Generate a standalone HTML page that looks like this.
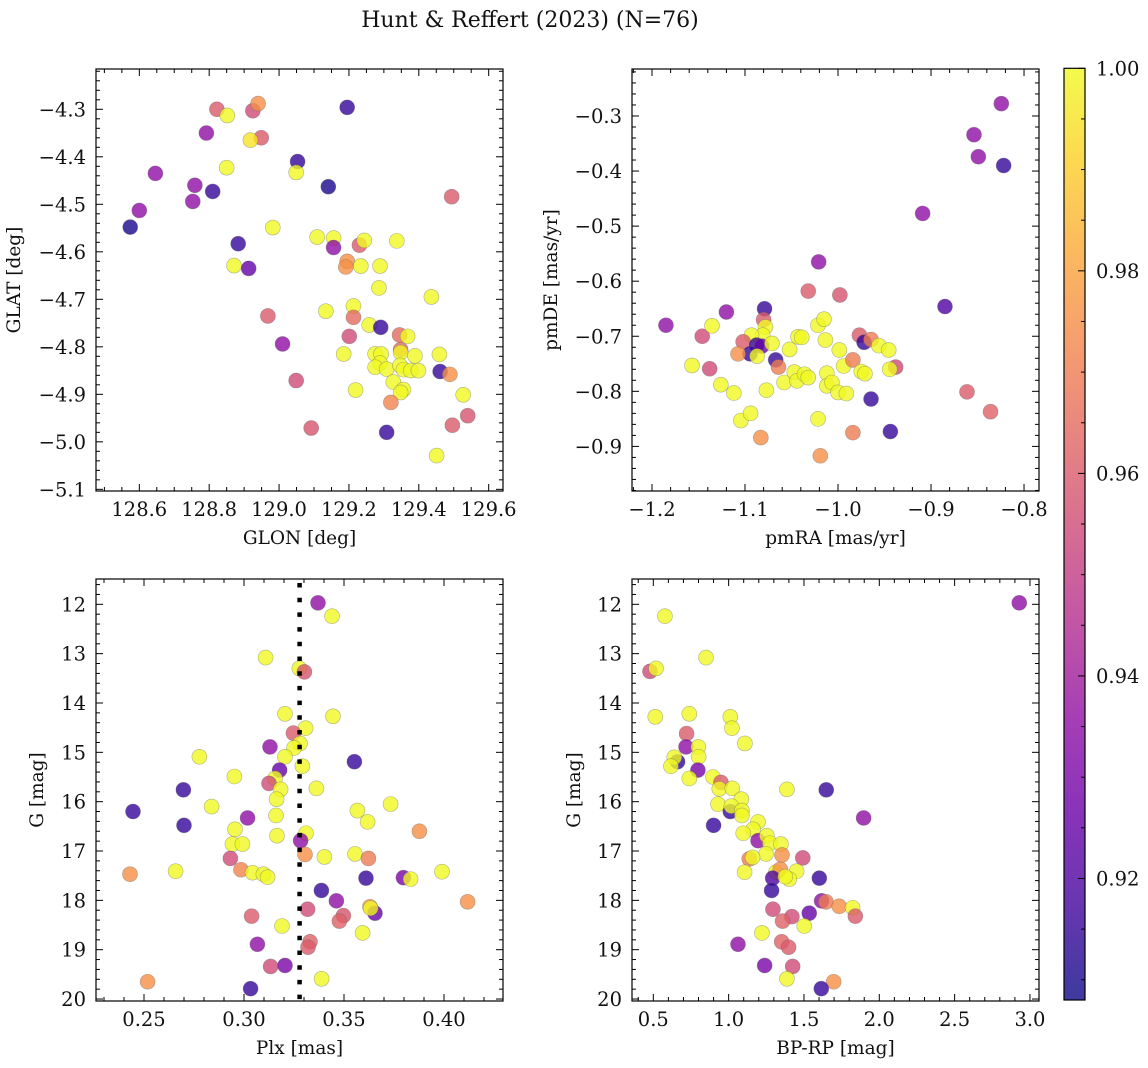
<!DOCTYPE html>
<html><head><meta charset="utf-8"><style>
html,body{margin:0;padding:0;background:#fff;}
svg{display:block;font-family:"DejaVu Serif","Liberation Serif",serif;}
</style></head><body>
<svg id="fig" width="1148" height="1068" viewBox="0 0 1148 1068" xmlns="http://www.w3.org/2000/svg">
<text x="530" y="27" font-size="22" text-anchor="middle" fill="#111">Hunt &amp; Reffert (2023) (N=76)</text>
</svg>
<script>
// ---- Panel 1 data: GLON vs GLAT
const glon = [128.574,128.600,128.646,128.753,128.759,128.810,128.792,128.822,128.852,128.925,128.940,128.949,128.918,128.850,128.883,128.871,128.913,128.982,129.053,129.049,129.141,129.195,129.494,128.968,129.010,129.049,129.092,129.109,129.156,129.156,129.230,129.244,129.337,129.195,129.191,129.234,129.289,129.286,129.436,129.134,129.213,129.213,129.258,129.291,129.201,129.345,129.368,129.348,129.348,129.185,129.275,129.292,129.389,129.459,129.289,129.275,129.308,129.346,129.356,129.377,129.399,129.461,129.489,129.327,129.356,129.348,129.219,129.527,129.320,129.540,129.496,129.308,129.451];
const glat = [-4.548,-4.513,-4.435,-4.494,-4.460,-4.473,-4.350,-4.300,-4.313,-4.303,-4.288,-4.360,-4.365,-4.423,-4.583,-4.629,-4.635,-4.549,-4.410,-4.433,-4.463,-4.296,-4.484,-4.735,-4.794,-4.871,-4.971,-4.569,-4.571,-4.591,-4.586,-4.576,-4.577,-4.620,-4.632,-4.630,-4.630,-4.676,-4.695,-4.725,-4.714,-4.738,-4.754,-4.759,-4.778,-4.775,-4.778,-4.806,-4.812,-4.815,-4.815,-4.815,-4.819,-4.816,-4.834,-4.843,-4.847,-4.839,-4.848,-4.850,-4.850,-4.852,-4.858,-4.874,-4.890,-4.896,-4.891,-4.901,-4.917,-4.945,-4.965,-4.980,-5.029];
const prob1 = [.91,.935,.935,.935,.935,.915,.935,.96,1,.955,.975,.96,.995,1,.915,1,.925,1,.915,1,.91,.915,.96,.96,.935,.955,.958,1,1,.935,.96,1,1,.975,.975,1,1,1,1,1,1,.965,1,.915,.955,.965,1,.965,1,1,1,1,1,1,1,1,1,1,1,1,1,.915,.975,1,1,1,1,1,.972,.958,.96,.915,1];
// ---- Panel 2 data: pmRA vs pmDE
const pmra = [-0.8244,-0.8538,-0.8491,-0.8219,-0.909,-0.885,-1.0208,-1.032,-0.998,-1.185,-1.120,-1.146,-1.1355,-1.138,-1.157,-1.126,-1.112,-1.1044,-1.094,-1.083,-1.079,-1.080,-1.078,-1.081,-1.093,-1.102,-1.0875,-1.082,-1.071,-1.0946,-1.1075,-1.087,-1.067,-1.064,-1.077,-1.058,-1.052,-1.043,-1.039,-1.047,-1.044,-1.036,-1.032,-1.0215,-1.015,-1.0136,-1.012,-1.012,-1.0065,-1.0,-0.9986,-0.994,-0.991,-1.0215,-1.019,-0.984,-0.984,-0.977,-0.972,-0.9645,-0.975,-0.971,-0.956,-0.9455,-0.938,-0.9444,-0.9645,-0.9437,-0.8613,-0.836];
const pmde = [-0.2776,-0.334,-0.374,-0.390,-0.477,-0.646,-0.565,-0.618,-0.625,-0.680,-0.656,-0.700,-0.681,-0.759,-0.753,-0.788,-0.803,-0.853,-0.840,-0.884,-0.650,-0.670,-0.683,-0.698,-0.698,-0.710,-0.716,-0.718,-0.713,-0.732,-0.732,-0.736,-0.743,-0.756,-0.798,-0.784,-0.724,-0.701,-0.702,-0.765,-0.781,-0.769,-0.775,-0.680,-0.669,-0.707,-0.767,-0.790,-0.784,-0.802,-0.725,-0.754,-0.804,-0.850,-0.917,-0.875,-0.743,-0.698,-0.711,-0.706,-0.764,-0.768,-0.717,-0.725,-0.756,-0.760,-0.814,-0.873,-0.801,-0.837];
const prob2 = [.935,.935,.935,.915,.935,.92,.935,.96,.958,.935,.935,.955,1,.955,1,1,1,1,1,.975,.915,.96,1,1,1,.96,.915,.925,1,.915,.975,1,.915,.97,1,1,1,1,1,1,1,1,1,1,1,1,1,1,1,1,1,1,1,1,.975,.97,.97,.96,.915,.97,1,1,1,1,.955,1,.915,.915,.96,.962];
// ---- Panel 3 data: Plx vs G
const plx = [.337,.344,.3108,.3277,.3302,.3205,.3445,.3308,.3247,.328,.325,.313,.2777,.3205,.3292,.3552,.3178,.2952,.3155,.3125,.3183,.3362,.2697,.3163,.3733,.2838,.2445,.3567,.316,.3018,.3618,.27,.2955,.3877,.331,.3165,.3283,.2942,.2992,.3305,.3402,.3555,.3622,.2932,.2658,.243,.2985,.3043,.3097,.3118,.361,.3797,.3833,.399,.3387,.3462,.4118,.3318,.363,.3655,.3633,.3038,.3497,.3477,.319,.3593,.333,.332,.3067,.3133,.3205,.3388,.2518,.3033];
const gmag3 = [11.97,12.24,13.08,13.30,13.37,14.22,14.27,14.51,14.61,14.82,14.91,14.89,15.09,15.09,15.28,15.19,15.36,15.49,15.53,15.63,15.75,15.73,15.76,15.95,16.05,16.10,16.20,16.18,16.28,16.33,16.41,16.48,16.56,16.60,16.64,16.69,16.79,16.86,16.86,17.07,17.12,17.06,17.15,17.15,17.41,17.47,17.38,17.44,17.47,17.53,17.55,17.54,17.57,17.42,17.80,18.01,18.03,18.18,18.13,18.26,18.16,18.32,18.31,18.42,18.52,18.66,18.84,18.95,18.89,19.34,19.32,19.59,19.65,19.79];
const prob3 = [.935,1,1,1,.958,1,1,1,.96,1,1,.935,1,1,1,.915,.925,1,1,.955,1,1,.915,1,1,1,.915,1,1,.935,1,.915,1,.975,1,1,.935,1,1,.975,1,1,.97,.955,1,.975,.972,1,1,1,.915,.93,1,1,.915,.935,.975,.955,.975,.925,1,.96,.958,.962,1,1,.962,.96,.935,.955,.93,1,.975,.915];
const plxRef = [0.3278];
// ---- Panel 4 data: BP-RP vs G
const bprp = [2.929,.577,.85,.478,.518,.513,.739,1.011,1.022,1.108,.721,.717,.799,.801,.661,.639,.617,.796,.739,.896,.949,.938,1.024,1.387,1.648,1.084,.929,1.011,1.018,1.088,1.088,1.896,.9,1.195,1.162,1.097,1.195,1.254,1.274,1.347,1.248,1.354,1.492,1.137,1.159,1.106,1.314,1.343,1.451,1.292,1.403,1.376,1.602,1.285,1.617,1.646,1.734,1.823,1.841,1.294,1.535,1.420,1.358,1.502,1.221,1.062,1.352,1.398,1.239,1.425,1.387,1.697,1.615];
const gmag4 = [11.97,12.24,13.08,13.36,13.30,14.28,14.22,14.28,14.51,14.82,14.62,14.89,14.89,15.09,15.19,15.10,15.28,15.36,15.53,15.50,15.61,15.74,15.73,15.75,15.76,15.95,16.05,16.20,16.09,16.18,16.28,16.33,16.48,16.41,16.56,16.64,16.79,16.69,16.84,16.86,17.06,17.08,17.14,17.16,17.13,17.43,17.43,17.37,17.41,17.55,17.57,17.52,17.55,17.80,18.01,18.03,18.12,18.15,18.32,18.18,18.26,18.33,18.42,18.52,18.66,18.89,18.84,18.95,19.32,19.34,19.59,19.65,19.79];
const prob4 = [.935,1,1,.955,1,1,1,1,1,1,.96,.935,1,1,.915,1,1,.93,1,1,.96,1,1,1,.915,1,1,.915,1,1,1,.935,.915,1,1,1,.935,1,1,1,1,.975,.955,.97,1,1,1,.975,1,.92,1,1,.915,.915,.935,.97,.975,1,.96,.955,.925,.955,.962,1,1,.935,.962,.96,.93,.955,1,.975,.915];
// ---- tick labels
const ticks1x = [128.6,128.8,129.0,129.2,129.4,129.6];
const ticks1y = [-4.3,-4.4,-4.5,-4.6,-4.7,-4.8,-4.9,-5.0,-5.1];
const ticks2x = [-1.2,-1.1,-1.0,-0.9,-0.8];
const ticks2y = [-0.3,-0.4,-0.5,-0.6,-0.7,-0.8,-0.9];
const ticks3x = [0.25,0.30,0.35,0.40];
const ticksG = [12,13,14,15,16,17,18,19,20];
const ticks4x = [0.5,1.0,1.5,2.0,2.5,3.0];
const cbarTicks = [0.92,0.94,0.96,0.98,1.00];
const cbarMin = 0.908, cbarMax = 1.0;

const NS = "http://www.w3.org/2000/svg";
const svg = document.getElementById('fig');
function el(tag, attrs, parent){
  const e = document.createElementNS(NS, tag);
  for (const k in attrs) e.setAttribute(k, attrs[k]);
  (parent||svg).appendChild(e);
  return e;
}
const plasma = [[13,8,135],[65,4,157],[106,0,168],[143,13,164],[177,42,144],[204,71,120],[225,100,98],[242,132,75],[252,166,54],[252,206,37],[240,249,33]];
function cmap(t){
  t = Math.max(0, Math.min(1, t));
  const f = t*10, i = Math.min(9, Math.floor(f)), r = f - i;
  const a = plasma[i], b = plasma[i+1];
  return 'rgb(' + [0,1,2].map(k => Math.round(a[k] + (b[k]-a[k])*r)).join(',') + ')';
}
function fmt(v, d){ const s = v.toFixed(d); return s.replace('-', '\u2212'); }

function makeAxis(cfg){
  const g = el('g', {});
  
  
  const sx = v => cfg.L + (v - cfg.x0)/(cfg.x1 - cfg.x0)*(cfg.R - cfg.L);
  const sy = v => cfg.T + (cfg.y0 - v)/(cfg.y0 - cfg.y1)*(cfg.B - cfg.T);
  const xs0 = Math.ceil(Math.min(cfg.x0,cfg.x1)/cfg.xmin - 1e-6);
  for (let k = xs0; k*cfg.xmin <= Math.max(cfg.x0,cfg.x1)+1e-9; k++){
    const v = k*cfg.xmin, px = sx(v);
    const isMaj = Math.abs(v/cfg.xmaj - Math.round(v/cfg.xmaj)) < 1e-6;
    const len = isMaj ? 7 : 4;
    const t1 = el('line', {x1:px, x2:px, y1:cfg.B, y2:cfg.B-len, stroke:'#000', 'stroke-width':1}, g);
    
    
    const t2 = el('line', {x1:px, x2:px, y1:cfg.T, y2:cfg.T+len, stroke:'#000', 'stroke-width':1}, g);
    
    
  }
  const ys0 = Math.ceil(Math.min(cfg.y0,cfg.y1)/cfg.ymin - 1e-6);
  for (let k = ys0; k*cfg.ymin <= Math.max(cfg.y0,cfg.y1)+1e-9; k++){
    const v = k*cfg.ymin, py = sy(v);
    const isMaj = Math.abs(v/cfg.ymaj - Math.round(v/cfg.ymaj)) < 1e-6;
    const len = isMaj ? 7 : 4;
    const t1 = el('line', {x1:cfg.L, x2:cfg.L+len, y1:py, y2:py, stroke:'#000', 'stroke-width':1}, g);
    
    
    const t2 = el('line', {x1:cfg.R, x2:cfg.R-len, y1:py, y2:py, stroke:'#000', 'stroke-width':1}, g);
    
    
  }
  cfg.xticks.forEach(v => {
    const t = el('text', {x:sx(v), y:cfg.B+25, 'font-size':19.5, 'text-anchor':'middle', fill:'#111'}, g);
    
    
    t.textContent = fmt(v, cfg.xd);
  });
  cfg.yticks.forEach(v => {
    const t = el('text', {x:cfg.L-10, y:sy(v)+7, 'font-size':19.5, 'text-anchor':'end', fill:'#111'}, g);
    
    
    t.textContent = fmt(v, cfg.yd);
  });
  const xl = el('text', {x:(cfg.L+cfg.R)/2, y:cfg.B+53, 'font-size':18.5, 'text-anchor':'middle', fill:'#111'}, g);
  
  
  xl.textContent = cfg.xlabel;
  const cy = (cfg.T+cfg.B)/2;
  const yl = el('text', {x:cfg.ylx, y:cy, 'font-size':18.5, 'text-anchor':'middle', fill:'#111', transform:'rotate(-90 '+cfg.ylx+' '+cy+')'}, g);
  
  
  yl.textContent = cfg.ylabel;
  const pg = el('g', {}, g);
  
  
  const n = Math.min(cfg.xs.length, cfg.ys.length, cfg.ps.length);
  for (let i = 0; i < n; i++){
    const c = el('circle', {cx:sx(cfg.xs[i]), cy:sy(cfg.ys[i]), r:7.5, fill:cmap((cfg.ps[i]-cbarMin)/(cbarMax-cbarMin)), 'fill-opacity':0.8, stroke:'#666', 'stroke-opacity':0.5, 'stroke-width':0.6}, pg);
    
    
  }
  if (cfg.vline){
    cfg.vline.forEach(v => {
      const l = el('line', {x1:sx(v), x2:sx(v), y1:cfg.T+4, y2:cfg.B, stroke:'#000', 'stroke-width':4.5, 'stroke-dasharray':'4.5 10.2'}, g);
      
      
    });
  }
  const fr = el('rect', {x:cfg.L, y:cfg.T, width:cfg.R-cfg.L, height:cfg.B-cfg.T, fill:'none', stroke:'#000', 'stroke-width':1.2}, g);
  
  
}

makeAxis({name:'panel-glon-glat', L:96, R:503, T:69, B:491, x0:128.476, x1:129.641, y0:-4.2152, y1:-5.1035,
  xmaj:0.2, xmin:0.05, ymaj:0.1, ymin:0.02, xticks:ticks1x, yticks:ticks1y, xd:1, yd:1,
  xlabel:'GLON [deg]', ylabel:'GLAT [deg]', ylx:20, xs:glon, ys:glat, ps:prob1});
makeAxis({name:'panel-pm', L:632, R:1039, T:69, B:491, x0:-1.2215, x1:-0.7839, y0:-0.2147, y1:-0.981,
  xmaj:0.1, xmin:0.02, ymaj:0.1, ymin:0.02, xticks:ticks2x, yticks:ticks2y, xd:1, yd:1,
  xlabel:'pmRA [mas/yr]', ylabel:'pmDE [mas/yr]', ylx:557, xs:pmra, ys:pmde, ps:prob2});
makeAxis({name:'panel-plx-g', L:96, R:503, T:579, B:1001, x0:0.226, x1:0.4295, y0:11.487, y1:20.04,
  xmaj:0.05, xmin:0.01, ymaj:1, ymin:0.2, xticks:ticks3x, yticks:ticksG, xd:2, yd:0,
  xlabel:'Plx [mas]', ylabel:'G [mag]', ylx:43, xs:plx, ys:gmag3, ps:prob3, vline:plxRef});
makeAxis({name:'panel-cmd', L:632, R:1039, T:579, B:1001, x0:0.3586, x1:3.06, y0:11.487, y1:20.04,
  xmaj:0.5, xmin:0.1, ymaj:1, ymin:0.2, xticks:ticks4x, yticks:ticksG, xd:1, yd:0,
  xlabel:'BP-RP [mag]', ylabel:'G [mag]', ylx:580, xs:bprp, ys:gmag4, ps:prob4});

(function(){
  const L=1064, R=1085, T=68.3, B=1000;
  const defs = el('defs', {});
  const grad = el('linearGradient', {id:'cbg', x1:0, y1:1, x2:0, y2:0}, defs);
  for (let i = 0; i <= 10; i++){
    el('stop', {offset:(i*10)+'%', 'stop-color':cmap(i/10), 'stop-opacity':0.8}, grad);
  }
  const g = el('g', {});
  
  
  el('rect', {x:L, y:T, width:R-L, height:B-T, fill:'url(#cbg)'}, g);
  const sy = v => B - (v-cbarMin)/(cbarMax-cbarMin)*(B-T);
  for (let k = Math.ceil(cbarMin/0.005); k*0.005 <= cbarMax+1e-9; k++){
    const v = k*0.005, py = sy(v);
    const maj = Math.abs(v/0.02 - Math.round(v/0.02)) < 1e-6;
    const t = el('line', {x1:R, x2:R-(maj?7:4), y1:py, y2:py, stroke:'#000', 'stroke-width':1}, g);
    
    
  }
  cbarTicks.forEach(v => {
    const t = el('text', {x:R+11, y:sy(v)+7, 'font-size':19.5, fill:'#111'}, g);
    
    
    t.textContent = v.toFixed(2);
  });
  const fr = el('rect', {x:L, y:T, width:R-L, height:B-T, fill:'none', stroke:'#000', 'stroke-width':1.2}, g);
  
  
})();
</script>
</body></html>
